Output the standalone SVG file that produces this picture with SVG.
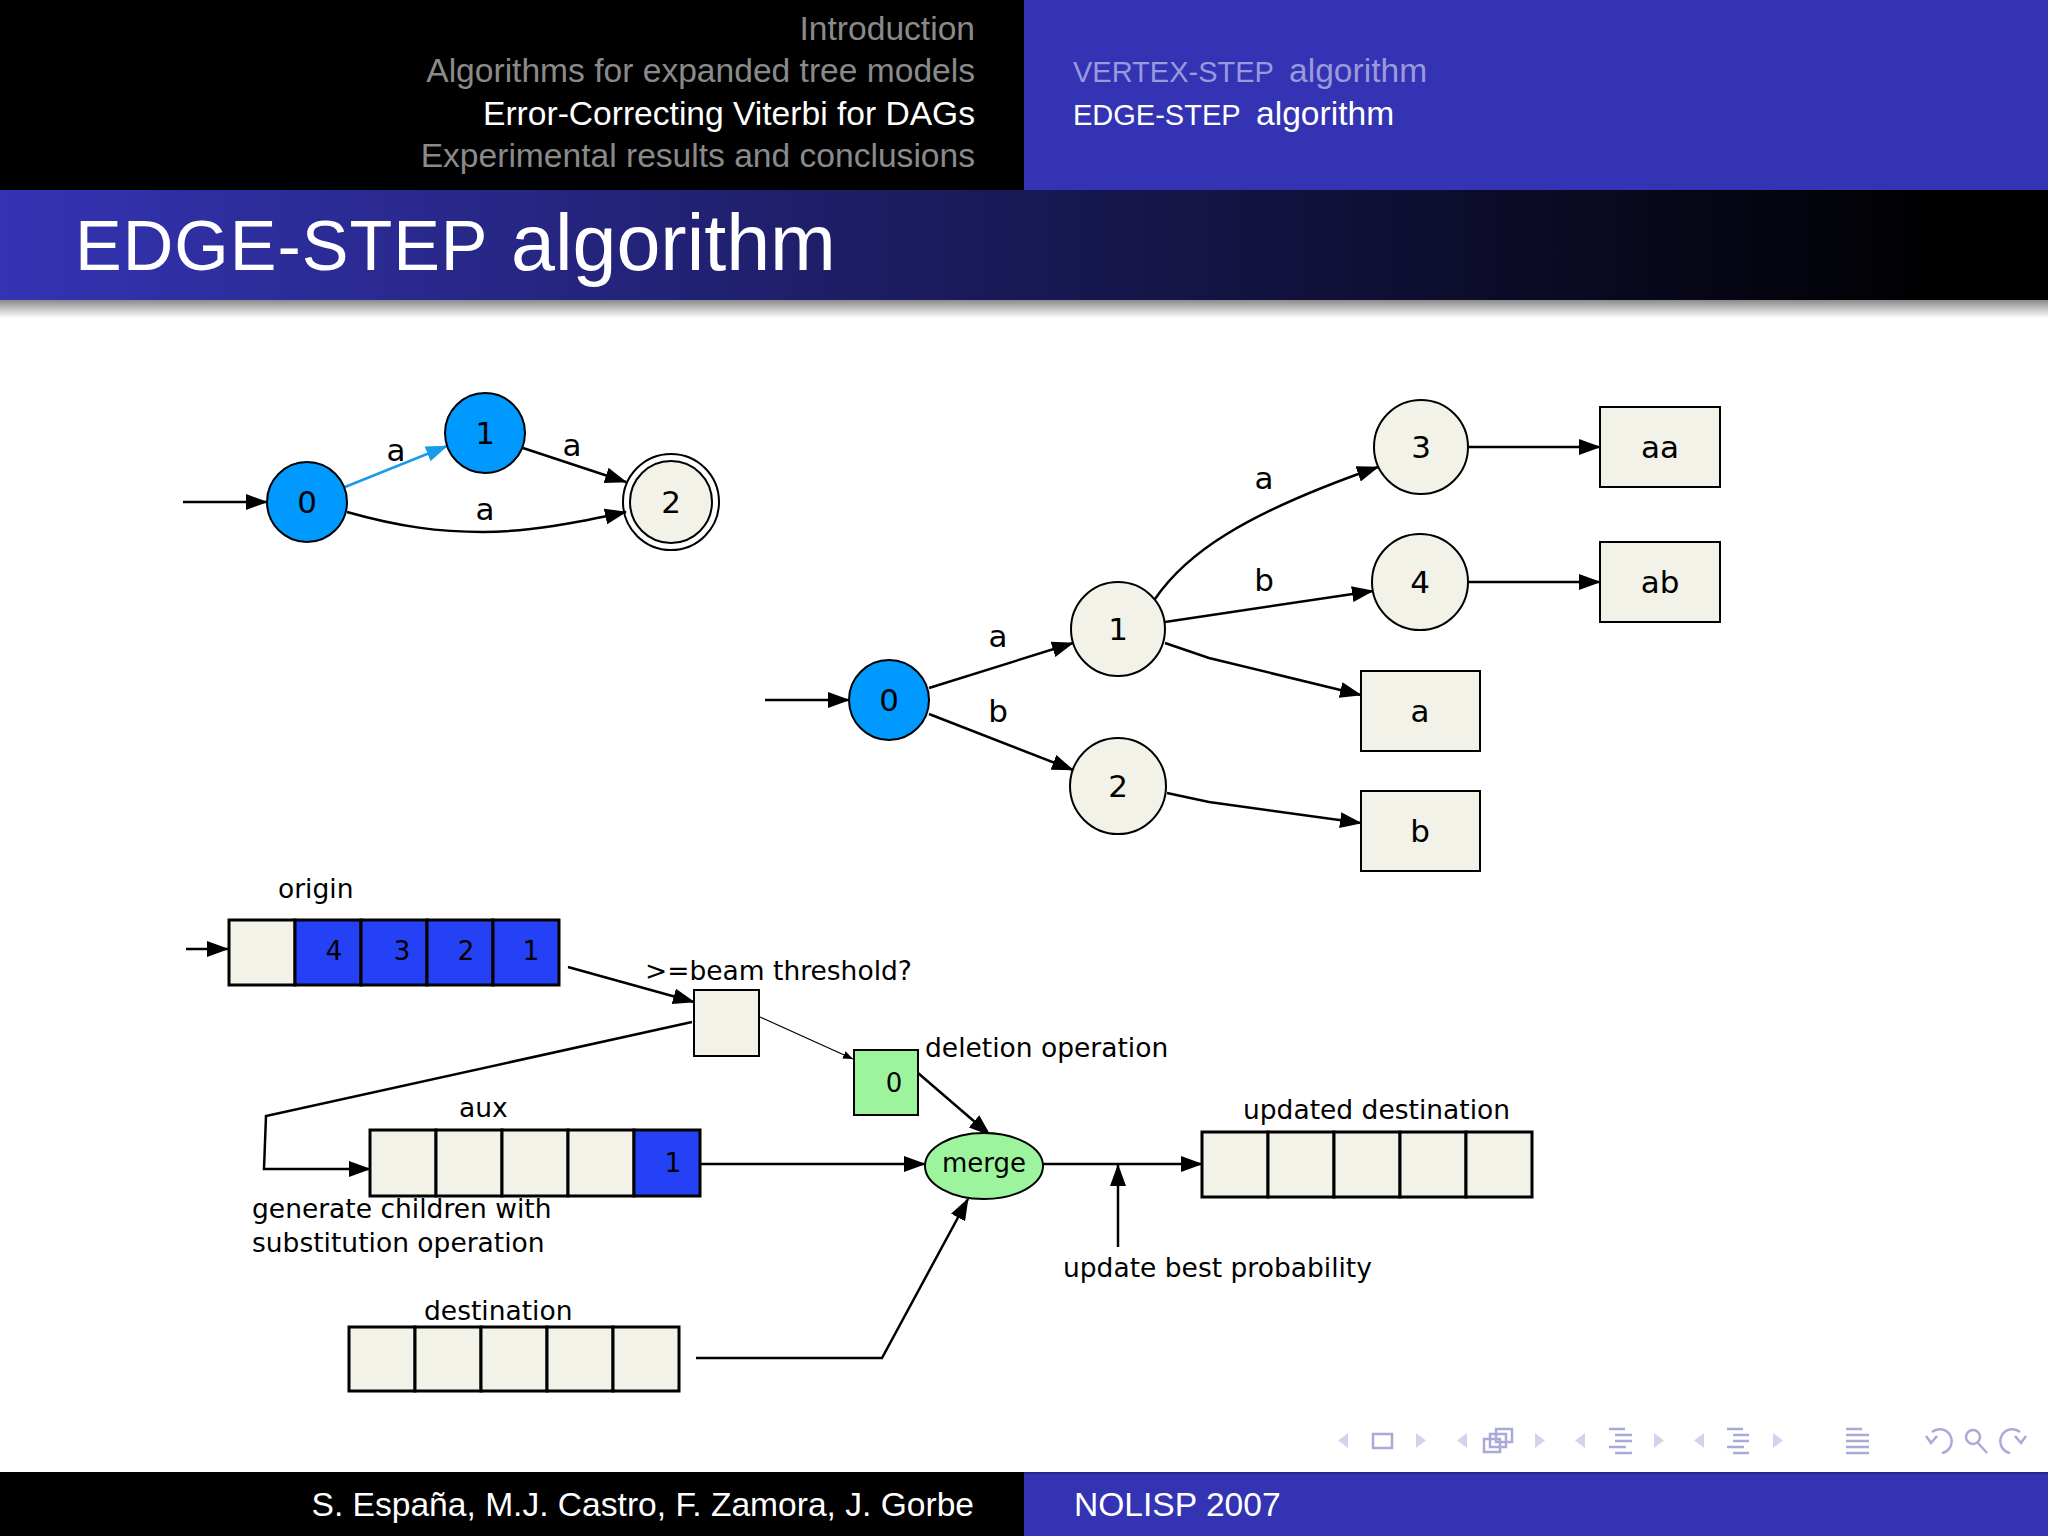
<svg xmlns="http://www.w3.org/2000/svg" width="2048" height="1536" viewBox="0 0 2048 1536">
<defs>
<linearGradient id="tg" x1="0" y1="0" x2="1950" y2="0" gradientUnits="userSpaceOnUse">
<stop offset="0" stop-color="#3434b4"/><stop offset="1" stop-color="#000000"/>
</linearGradient>
<linearGradient id="sh" x1="0" y1="0" x2="0" y2="1">
<stop offset="0" stop-color="#8a8a8a"/><stop offset="1" stop-color="#ffffff"/>
</linearGradient>
<marker id="ah" markerWidth="22" markerHeight="16" refX="21" refY="8" orient="auto" markerUnits="userSpaceOnUse"><path d="M0,0 L22,8 L0,16 z" fill="#000"/></marker>
<marker id="ahb" markerWidth="22" markerHeight="16" refX="21" refY="8" orient="auto" markerUnits="userSpaceOnUse"><path d="M0,0 L22,8 L0,16 z" fill="#1a9be8"/></marker>
<marker id="ahs" markerWidth="10" markerHeight="8" refX="10" refY="4" orient="auto" markerUnits="userSpaceOnUse"><path d="M0,0 L10,4 L0,8 z" fill="#000"/></marker>
<style>
.hd{font-family:"Liberation Sans",Arial,sans-serif;font-size:33.6px}
.g{font-family:"DejaVu Sans",sans-serif;font-size:31px;fill:#000;text-anchor:middle}
.t{font-family:"DejaVu Sans",sans-serif;font-size:26.5px;fill:#000}
.tn{font-family:"DejaVu Sans",sans-serif;font-size:26px;fill:#000;text-anchor:middle}
.n{stroke:#000;stroke-width:2}
.blue{fill:#0099ff}
.bg{fill:#f2f2e8}
.cell{stroke:#000;stroke-width:3}
.cb{fill:#2541f5}
.gr{fill:#9cf59c}
.e{fill:none;stroke:#000;stroke-width:2.5;marker-end:url(#ah)}
.nav{fill:none;stroke:#aaaad8;stroke-width:2.5}
.navt{fill:#d3d3ee}
</style>
</defs>
<rect width="2048" height="1536" fill="#fff"/>
<!-- header -->
<rect x="0" y="0" width="1024" height="190" fill="#000"/>
<rect x="1024" y="0" width="1024" height="190" fill="#3333b3"/>
<rect x="0" y="190" width="2048" height="110" fill="url(#tg)"/>
<rect x="0" y="300" width="2048" height="18" fill="url(#sh)"/>
<g class="hd" text-anchor="end">
<text x="975" y="40" fill="#8a8a8a">Introduction</text>
<text x="975" y="82" fill="#8a8a8a">Algorithms for expanded tree models</text>
<text x="975" y="125" fill="#ffffff">Error-Correcting Viterbi for DAGs</text>
<text x="975" y="167" fill="#8a8a8a">Experimental results and conclusions</text>
</g>
<g class="hd">
<text y="82" fill="#9999dd"><tspan x="1073" font-size="29">VERTEX-STEP</tspan><tspan x="1289">algorithm</tspan></text>
<text y="125" fill="#ffffff"><tspan x="1073" font-size="29">EDGE-STEP</tspan><tspan x="1256">algorithm</tspan></text>
</g>
<text y="270" font-family="Liberation Sans,Arial,sans-serif" fill="#fff"><tspan x="75" font-size="70" letter-spacing="1">EDGE-STEP</tspan><tspan x="511" font-size="79">algorithm</tspan></text>

<!-- connectors -->
<g id="connectors">
<line class="e" x1="183" y1="502" x2="267" y2="502"/>
<line x1="345" y1="487" x2="447" y2="446" fill="none" stroke="#1a9be8" stroke-width="2.5" marker-end="url(#ahb)"/>
<line class="e" x1="523" y1="448" x2="626" y2="482"/>
<path class="e" d="M347,512 C400,527 440,532 483,532 C530,532 580,522 626,512"/>

<line class="e" x1="765" y1="700" x2="849" y2="700"/>
<line class="e" x1="929" y1="688" x2="1073" y2="643"/>
<line class="e" x1="929" y1="714" x2="1073" y2="770"/>
<path class="e" d="M1155,599 C1185,555 1240,515 1378,467"/>
<line class="e" x1="1165" y1="622" x2="1373" y2="591"/>
<path class="e" d="M1165,643 L1209,658 L1361,695"/>
<path class="e" d="M1167,793 L1209,802 L1361,823"/>
<line class="e" x1="1468" y1="447" x2="1600" y2="447"/>
<line class="e" x1="1469" y1="582" x2="1600" y2="582"/>

<line class="e" x1="186" y1="949" x2="228" y2="949" stroke-width="3.5"/>
<line class="e" x1="568" y1="967" x2="694" y2="1002"/>
<line x1="760" y1="1017" x2="853" y2="1059" stroke="#000" stroke-width="1.2" marker-end="url(#ahs)"/>
<path class="e" d="M692,1022 L266,1116 L264,1169 L370,1169"/>
<line class="e" x1="918" y1="1073" x2="990" y2="1135"/>
<line class="e" x1="700" y1="1164" x2="925" y2="1164"/>
<line class="e" x1="1043" y1="1164" x2="1202" y2="1164"/>
<line class="e" x1="1118" y1="1247" x2="1118" y2="1165"/>
<path class="e" d="M696,1358 L882,1358 L968,1199"/>
</g>

<!-- top-left graph -->
<g id="tl0"><circle class="n blue" cx="307" cy="502" r="40"/><text class="g" x="307" y="513">0</text></g>
<g id="tl1"><circle class="n blue" cx="485" cy="433" r="40"/><text class="g" x="485" y="444">1</text></g>
<g id="tl2"><circle cx="671" cy="502" r="48" fill="none" stroke="#000" stroke-width="2"/><circle class="n bg" cx="671" cy="502" r="41"/><text class="g" x="671" y="513">2</text></g>
<g id="tl-labels">
<text class="g" x="396" y="461">a</text>
<text class="g" x="572" y="456">a</text>
<text class="g" x="485" y="520">a</text>
</g>

<!-- right graph -->
<g id="r0"><circle class="n blue" cx="889" cy="700" r="40"/><text class="g" x="889" y="711">0</text></g>
<g id="r1"><circle class="n bg" cx="1118" cy="629" r="47"/><text class="g" x="1118" y="640">1</text></g>
<g id="r2"><circle class="n bg" cx="1118" cy="786" r="48"/><text class="g" x="1118" y="797">2</text></g>
<g id="r3"><circle class="n bg" cx="1421" cy="447" r="47"/><text class="g" x="1421" y="458">3</text></g>
<g id="r4"><circle class="n bg" cx="1420" cy="582" r="48"/><text class="g" x="1420" y="593">4</text></g>
<g id="raa"><rect class="n bg" x="1600" y="407" width="120" height="80"/><text class="g" x="1660" y="458">aa</text></g>
<g id="rab"><rect class="n bg" x="1600" y="542" width="120" height="80"/><text class="g" x="1660" y="593">ab</text></g>
<g id="ra"><rect class="n bg" x="1361" y="671" width="119" height="80"/><text class="g" x="1420" y="722">a</text></g>
<g id="rb"><rect class="n bg" x="1361" y="791" width="119" height="80"/><text class="g" x="1420" y="842">b</text></g>
<g id="r-labels">
<text class="g" x="998" y="647">a</text>
<text class="g" x="998" y="722">b</text>
<text class="g" x="1264" y="489">a</text>
<text class="g" x="1264" y="591">b</text>
</g>

<!-- bottom -->
<g id="origin">
<text class="t" x="278" y="898">origin</text>
<rect class="cell bg" x="229" y="920" width="66" height="65"/>
<rect class="cell cb" x="295" y="920" width="66" height="65"/>
<rect class="cell cb" x="361" y="920" width="66" height="65"/>
<rect class="cell cb" x="427" y="920" width="66" height="65"/>
<rect class="cell cb" x="493" y="920" width="66" height="65"/>
<text class="tn" x="334" y="960">4</text>
<text class="tn" x="402" y="960">3</text>
<text class="tn" x="466" y="960">2</text>
<text class="tn" x="531" y="960">1</text>
</g>
<g id="threshold">
<text class="t" x="645" y="980">&gt;=beam threshold?</text>
<rect class="n bg" x="694" y="990" width="65" height="66"/>
</g>
<g id="deletion">
<text class="t" x="925" y="1057">deletion operation</text>
<rect class="n gr" x="854" y="1050" width="64" height="65"/>
<text class="tn" x="894" y="1092">0</text>
</g>
<g id="aux">
<text class="t" x="459" y="1117">aux</text>
<rect class="cell bg" x="370" y="1130" width="66" height="66"/>
<rect class="cell bg" x="436" y="1130" width="66" height="66"/>
<rect class="cell bg" x="502" y="1130" width="66" height="66"/>
<rect class="cell bg" x="568" y="1130" width="66" height="66"/>
<rect class="cell cb" x="634" y="1130" width="66" height="66"/>
<text class="tn" x="673" y="1172">1</text>
<text class="t" x="252" y="1218">generate children with</text>
<text class="t" x="252" y="1252">substitution operation</text>
</g>
<g id="merge">
<ellipse class="n gr" cx="984" cy="1166" rx="59" ry="33"/>
<text class="tn" x="984" y="1172" font-size="27">merge</text>
</g>
<g id="updated">
<text class="t" x="1243" y="1119">updated destination</text>
<rect class="cell bg" x="1202" y="1132" width="66" height="65"/>
<rect class="cell bg" x="1268" y="1132" width="66" height="65"/>
<rect class="cell bg" x="1334" y="1132" width="66" height="65"/>
<rect class="cell bg" x="1400" y="1132" width="66" height="65"/>
<rect class="cell bg" x="1466" y="1132" width="66" height="65"/>
<text class="t" x="1063" y="1277">update best probability</text>
</g>
<g id="destination">
<text class="t" x="424" y="1320">destination</text>
<rect class="cell bg" x="349" y="1327" width="66" height="64"/>
<rect class="cell bg" x="415" y="1327" width="66" height="64"/>
<rect class="cell bg" x="481" y="1327" width="66" height="64"/>
<rect class="cell bg" x="547" y="1327" width="66" height="64"/>
<rect class="cell bg" x="613" y="1327" width="66" height="64"/>
</g>

<!-- nav -->
<g id="nav">
<polygon class="navt" points="1348,1433 1338,1440.5 1348,1448"/>
<rect class="nav" x="1373" y="1434" width="19" height="14"/>
<polygon class="navt" points="1416,1433 1426,1440.5 1416,1448"/>
<polygon class="navt" points="1467,1433 1457,1440.5 1467,1448"/>
<rect class="nav" x="1496" y="1429" width="16" height="13" fill="#fff"/>
<rect class="nav" x="1490" y="1434" width="16" height="13" fill="#fff"/>
<rect class="nav" x="1484" y="1439" width="16" height="13" fill="#fff"/>
<polygon class="navt" points="1535,1433 1545,1440.5 1535,1448"/>
<polygon class="navt" points="1585,1433 1575,1440.5 1585,1448"/>
<path class="nav" d="M1609,1429 H1625 M1615,1435 H1632 M1615,1441 H1632 M1609,1447 H1626 M1615,1453 H1632" stroke-width="2.2"/>
<polygon class="navt" points="1654,1433 1664,1440.5 1654,1448"/>
<polygon class="navt" points="1704,1433 1694,1440.5 1704,1448"/>
<path class="nav" d="M1727,1429 H1743 M1733,1435 H1749 M1733,1441 H1749 M1727,1447 H1744 M1733,1453 H1749" stroke-width="2.2"/>
<polygon class="navt" points="1773,1433 1783,1440.5 1773,1448"/>
<path class="nav" d="M1846,1429 H1862 M1846,1435 H1869 M1846,1441 H1869 M1846,1447 H1869 M1846,1453 H1869" stroke-width="2.2"/>
<path class="nav" d="M1932,1432 A12,12 0 1 1 1942,1453 M1926,1436 L1931,1443 L1937,1436"/>
<circle class="nav" cx="1973" cy="1437" r="7"/>
<line class="nav" x1="1978" y1="1443" x2="1987" y2="1453"/>
<path class="nav" d="M2020,1432 A12,12 0 1 0 2010,1453 M2026,1436 L2021,1443 L2015,1436"/>
</g>

<!-- footer -->
<rect x="0" y="1472" width="1024" height="64" fill="#000"/>
<rect x="1024" y="1472" width="1024" height="64" fill="#3333b3"/>
<line x1="1024" y1="1473" x2="2048" y2="1473" stroke="#26268a" stroke-width="2"/>
<text class="hd" x="974" y="1516" text-anchor="end" fill="#fff">S. España, M.J. Castro, F. Zamora, J. Gorbe</text>
<text class="hd" x="1074" y="1516" fill="#fff">NOLISP 2007</text>
</svg>
